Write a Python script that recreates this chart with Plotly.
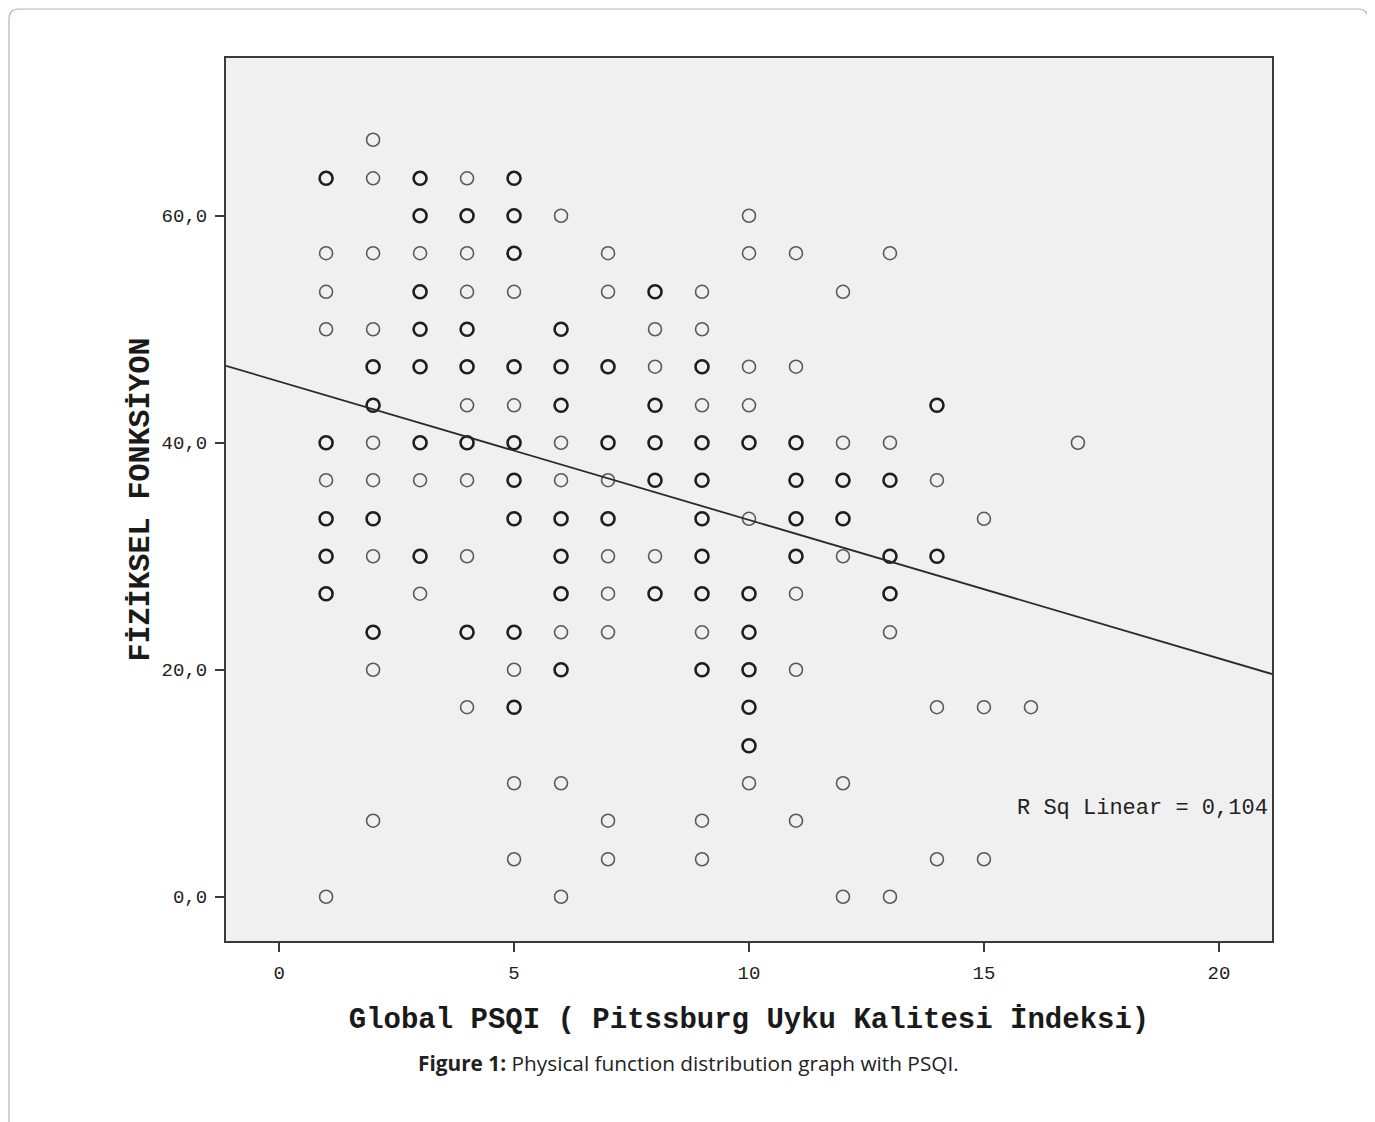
import plotly.graph_objects as go
import numpy as np

# ---- data ----
psqi = [1]*10 + [2]*13 + [3]*10 + [4]*12 + [5]*14 + [6]*13 + [7]*11 + [8]*8 + [9]*13 + [10]*12 + [11]*9 + [12]*7 + [13]*7 + [14]*5 + [15]*3 + [16] + [17]
fiz = [
    63.3, 56.7, 53.3, 50.0, 40.0, 36.7, 33.3, 30.0, 26.7, 0.0,                      # 1
    66.7, 63.3, 56.7, 50.0, 46.7, 43.3, 40.0, 36.7, 33.3, 30.0, 23.3, 20.0, 6.7,    # 2
    63.3, 60.0, 56.7, 53.3, 50.0, 46.7, 40.0, 36.7, 30.0, 26.7,                      # 3
    63.3, 60.0, 56.7, 53.3, 50.0, 46.7, 43.3, 40.0, 36.7, 30.0, 23.3, 16.7,          # 4
    63.3, 60.0, 56.7, 53.3, 46.7, 43.3, 40.0, 36.7, 33.3, 23.3, 20.0, 16.7, 10.0, 3.3,  # 5
    60.0, 50.0, 46.7, 43.3, 40.0, 36.7, 33.3, 30.0, 26.7, 23.3, 20.0, 10.0, 0.0,    # 6
    56.7, 53.3, 46.7, 40.0, 36.7, 33.3, 30.0, 26.7, 23.3, 6.7, 3.3,                  # 7
    53.3, 50.0, 46.7, 43.3, 40.0, 36.7, 30.0, 26.7,                                  # 8
    53.3, 50.0, 46.7, 43.3, 40.0, 36.7, 33.3, 30.0, 26.7, 23.3, 20.0, 6.7, 3.3,     # 9
    60.0, 56.7, 46.7, 43.3, 40.0, 33.3, 26.7, 23.3, 20.0, 16.7, 13.3, 10.0,         # 10
    56.7, 46.7, 40.0, 36.7, 33.3, 30.0, 26.7, 20.0, 6.7,                             # 11
    53.3, 40.0, 36.7, 33.3, 30.0, 10.0, 0.0,                                         # 12
    56.7, 40.0, 36.7, 30.0, 26.7, 23.3, 0.0,                                         # 13
    43.3, 36.7, 30.0, 16.7, 3.3,                                                     # 14
    33.3, 16.7, 3.3,                                                                 # 15
    16.7,                                                                            # 16
    40.0,                                                                            # 17
]
# 1 = single point, 2 = overlapping points (drawn bold)
mult = [
    2, 1, 1, 1, 2, 1, 2, 2, 2, 1,
    1, 1, 1, 1, 2, 2, 1, 1, 2, 1, 2, 1, 1,
    2, 2, 1, 2, 2, 2, 2, 1, 2, 1,
    1, 2, 1, 1, 2, 2, 1, 2, 1, 1, 2, 1,
    2, 2, 2, 1, 2, 1, 2, 2, 2, 2, 1, 2, 1, 1,
    1, 2, 2, 2, 1, 1, 2, 2, 2, 1, 2, 1, 1,
    1, 1, 2, 2, 1, 2, 1, 1, 1, 1, 1,
    2, 1, 1, 2, 2, 2, 1, 2,
    1, 1, 2, 1, 2, 2, 2, 2, 2, 1, 2, 1, 1,
    1, 1, 1, 1, 2, 1, 2, 2, 2, 2, 2, 1,
    1, 1, 2, 2, 2, 2, 1, 1, 1,
    1, 1, 2, 2, 1, 1, 1,
    1, 1, 2, 2, 2, 1, 1,
    2, 1, 2, 1, 1,
    1, 1, 1,
    1,
    1,
]

fit_intercept = 45.4
fit_slope = -1.22
r_sq_label = "R Sq Linear = 0,104"

x_ticks = [0, 5, 10, 15, 20]
x_ticktext = ["0", "5", "10", "15", "20"]
y_ticks = [0, 20, 40, 60]
y_ticktext = ["0,0", "20,0", "40,0", "60,0"]

x_range = [-1.13, 21.13]
y_range = [-3.9, 73.9]

# ---- figure ----
psqi_a = np.array(psqi)
fiz_a = np.array(fiz)
mult_a = np.array(mult)

fig = go.Figure()

single = mult_a == 1
multi = mult_a == 2
fig.add_trace(go.Scatter(
    x=psqi_a[single], y=fiz_a[single], mode="markers",
    marker=dict(symbol="circle-open", size=13, color="#5a5a5a", line=dict(width=1.6, color="#5a5a5a")),
    showlegend=False, hoverinfo="x+y"))
fig.add_trace(go.Scatter(
    x=psqi_a[multi], y=fiz_a[multi], mode="markers",
    marker=dict(symbol="circle-open", size=13, color="#1e1e1e", line=dict(width=2.6, color="#1e1e1e")),
    showlegend=False, hoverinfo="x+y"))

line_x = np.array(x_range)
line_y = fit_intercept + fit_slope * line_x
fig.add_trace(go.Scatter(x=line_x, y=line_y, mode="lines",
                         line=dict(color="#2a2a2a", width=1.8), showlegend=False, hoverinfo="skip"))

fig.add_annotation(x=1.0, xref="paper", xanchor="right", y=7.8, yref="y", yanchor="middle",
                   text=r_sq_label, showarrow=False, xshift=-2,
                   font=dict(family="Liberation Mono, Courier New, monospace", size=22, color="#222222"))

W, H = 1367, 1114
L, R, T, B = 218, 103, 50, 181
pw, ph = W - L - R, H - T - B
def px(xp): return (xp - L) / pw
def py(yp): return (H - B - yp) / ph

# caption (centred on the page)
fig.add_annotation(x=px(680), xref="paper", y=-0.138, yref="paper", yanchor="middle",
                   text="<b>Figure 1:</b> Physical function distribution graph with PSQI.",
                   showarrow=False, font=dict(family="Open Sans, Lato, sans-serif", size=20.8, color="#222222"))

# outer rounded frame (decorative, paper coordinates)
x0, x1, y0, y1, rr = 1, 1360, 1, 1130, 10
path = (f"M {px(x0)},{py(y1)} L {px(x0)},{py(y0+rr)} Q {px(x0)},{py(y0)} {px(x0+rr)},{py(y0)} "
        f"L {px(x1-rr)},{py(y0)} Q {px(x1)},{py(y0)} {px(x1)},{py(y0+rr)} L {px(x1)},{py(y1)}")
fig.add_shape(type="path", path=path, xref="paper", yref="paper",
              line=dict(color="#b4b4b4", width=1.2), layer="below")

axis_font = dict(family="Liberation Mono, Courier New, monospace", size=19, color="#222222")
title_font = dict(family="Liberation Mono, Courier New, monospace", size=29, color="#1a1a1a")
ytitle_font = dict(family="Liberation Mono, Courier New, monospace", size=30, color="#1a1a1a")

fig.update_xaxes(range=x_range, tickvals=x_ticks, ticktext=x_ticktext,
                 showgrid=False, zeroline=False, showline=True, mirror=True,
                 linecolor="#3a3a3a", linewidth=2, ticks="outside", ticklen=9, tickwidth=2,
                 tickcolor="#3a3a3a", tickfont=axis_font, ticklabelstandoff=4,
                 title=dict(text="<b>Global PSQI ( Pitssburg Uyku Kalitesi İndeksi)</b>",
                            font=title_font, standoff=24))
fig.update_yaxes(range=y_range, tickvals=y_ticks, ticktext=y_ticktext,
                 showgrid=False, zeroline=False, showline=True, mirror=True,
                 linecolor="#3a3a3a", linewidth=2, ticks="outside", ticklen=9, tickwidth=2,
                 tickcolor="#3a3a3a", tickfont=axis_font, ticklabelstandoff=4,
                 title=dict(text="<b>FİZİKSEL FONKSİYON</b>", font=ytitle_font, standoff=3))

fig.update_layout(width=W, height=H, margin=dict(l=L, r=R, t=T, b=B, autoexpand=False),
                  paper_bgcolor="white", plot_bgcolor="#f0f0f0")

fig.write_html("out.html")
